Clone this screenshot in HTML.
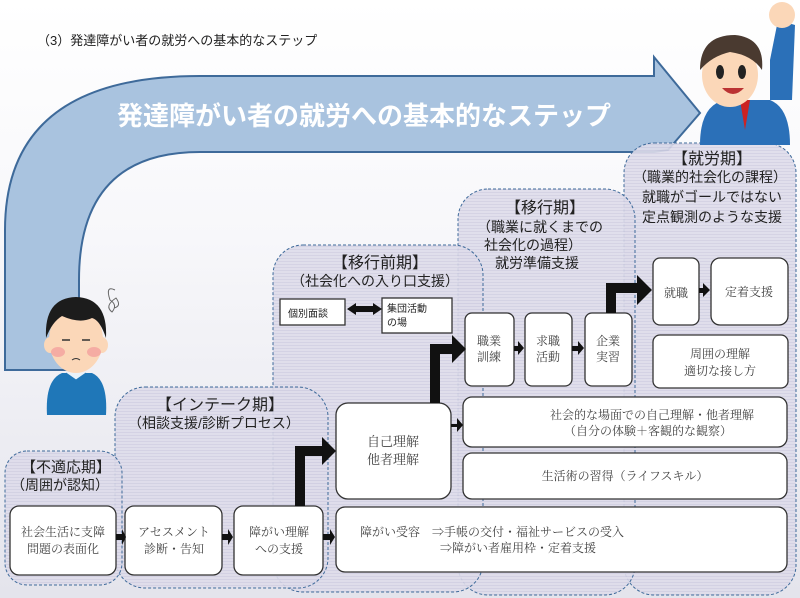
<!DOCTYPE html>
<html><head><meta charset="utf-8"><style>
html,body{margin:0;padding:0;width:800px;height:598px;overflow:hidden;background:#fff}
svg{display:block}
.g{font-family:"Liberation Sans","Noto Sans CJK JP",sans-serif}
.m{font-family:"Liberation Serif","Noto Serif CJK SC","IPAGothic",serif;fill:#444}
</style></head><body>
<svg width="800" height="598" viewBox="0 0 800 598" xmlns="http://www.w3.org/2000/svg">
<defs>
<linearGradient id="bg" x1="0" y1="0" x2="0" y2="1">
<stop offset="0" stop-color="#ffffff"/><stop offset="0.4" stop-color="#f7f7fa"/><stop offset="1" stop-color="#e4e4ec"/>
</linearGradient>
<pattern id="st" width="4" height="3" patternUnits="userSpaceOnUse">
<rect width="4" height="3" fill="#dedcea"/><rect width="4" height="1" fill="#d1cfe2"/>
</pattern>
</defs>
<rect width="800" height="598" fill="url(#bg)"/>
<text x="37" y="45" class="g" font-size="13" fill="#222">（3）発達障がい者の就労への基本的なステップ</text>

<path d="M5 370 L5 230 Q5 76 200 76 L654 76 L654 57 L700 113 L668 150 L654 152 L200 152 Q79 152 79 280 L79 370 Z" fill="#a9c3df" stroke="#3e6a9a" stroke-width="2"/>
<text x="364" y="125" class="g" font-size="26" font-weight="bold" fill="#fff" text-anchor="middle">発達障がい者の就労への基本的なステップ</text>

<g stroke="#3e6a9a" stroke-width="1" stroke-dasharray="3,2" fill="url(#st)" fill-opacity="0.9">
<rect x="624" y="143" width="172" height="452" rx="30"/>
<rect x="458" y="189" width="177" height="406" rx="30"/>
<rect x="273" y="245" width="210" height="347" rx="30"/>
<rect x="115" y="387" width="213" height="201" rx="30"/>
<rect x="5" y="451" width="117" height="134" rx="22"/>
</g>

<g class="g" fill="#222" text-anchor="middle">
<text x="66" y="472" font-size="15">【不適応期】</text>
<text x="60" y="490" font-size="14">（周囲が認知）</text>
<text x="220" y="410" font-size="16">【インテーク期】</text>
<text x="214" y="428" font-size="14">（相談支援/診断プロセス）</text>
<text x="380" y="268" font-size="16">【移行前期】</text>
<text x="375" y="286" font-size="14">（社会化への入り口支援）</text>
<text x="545" y="213" font-size="16">【移行期】</text>
<text x="540" y="232" font-size="14">（職業に就くまでの</text>
<text x="533" y="250" font-size="14">社会化の過程）</text>
<text x="537" y="268" font-size="14">就労準備支援</text>
<text x="712" y="164" font-size="16">【就労期】</text>
<text x="710" y="182" font-size="14">（職業的社会化の課程）</text>
<text x="712" y="202" font-size="14">就職がゴールではない</text>
<text x="712" y="222" font-size="14">定点観測のような支援</text>
</g>

<g fill="#fff" stroke="#333" stroke-width="1.3">
<rect x="10" y="506" width="106" height="69" rx="9"/>
<rect x="125" y="506" width="97" height="69" rx="9"/>
<rect x="234" y="506" width="89" height="69" rx="9"/>
<rect x="336" y="507" width="451" height="65" rx="9"/>
<rect x="336" y="403" width="115" height="96" rx="12"/>
<rect x="463" y="397" width="324" height="50" rx="9"/>
<rect x="463" y="453" width="324" height="46" rx="9"/>
<rect x="465" y="313" width="49" height="73" rx="7"/>
<rect x="525" y="313" width="47" height="73" rx="7"/>
<rect x="585" y="313" width="47" height="73" rx="7"/>
<rect x="653" y="258" width="46" height="67" rx="7"/>
<rect x="711" y="258" width="77" height="67" rx="9"/>
<rect x="653" y="335" width="135" height="53" rx="7"/>
<rect x="280" y="299" width="65" height="26" rx="0"/>
<rect x="382" y="298" width="70" height="35" rx="0"/>
</g>

<g fill="#111">
<path d="M116 534 h6 v-5 l4 8 l-4 8 v-5 h-6z"/>
<path d="M222 534 h6 v-5 l5 8 l-5 8 v-5 h-6z"/>
<path d="M323 534 h7 v-5 l5 8 l-5 8 v-5 h-7z"/>
<path d="M451 424 h6 v-6 l6 7 l-6 7 v-5 h-6z"/>
<path d="M514 346 h4 v-5 l6 7 l-6 7 v-4 h-4z"/>
<path d="M572 346 h6 v-5 l6 7 l-6 7 v-4 h-6z"/>
<path d="M699 288 h4 v-5 l7 7 l-7 7 v-4 h-4z"/>
<path d="M347 309 l9 -6 v3 h17 v-3 l9 6 l-9 6 v-3 h-17 v3z"/>
<path d="M295 506 V446 H322 V437 L336 451 L322 465 V456 H305 V506 Z"/>
<path d="M430 403 V344 H452 V335 L466 349 L452 363 V354 H440 V403 Z"/>
<path d="M606 313 V283 H637 V275 L652 290 L637 305 V293 H616 V313 Z"/>
</g>

<g class="m" text-anchor="middle" font-size="12">
<text x="63" y="536">社会生活に支障</text>
<text x="63" y="553">問題の表面化</text>
<text x="174" y="536">アセスメント</text>
<text x="174" y="553">診断・告知</text>
<text x="279" y="536">障がい理解</text>
<text x="279" y="553">への支援</text>
<text x="393" y="446" font-size="13">自己理解</text>
<text x="393" y="464" font-size="13">他者理解</text>
<text x="652" y="419">社会的な場面での自己理解・他者理解</text>
<text x="648" y="435">（自分の体験＋客観的な観察）</text>
<text x="625" y="480">生活術の習得（ライフスキル）</text>
<text x="489" y="345">職業</text>
<text x="489" y="361">訓練</text>
<text x="548" y="345">求職</text>
<text x="548" y="361">活動</text>
<text x="608" y="345">企業</text>
<text x="608" y="361">実習</text>
<text x="676" y="297">就職</text>
<text x="749" y="296">定着支援</text>
<text x="720" y="358">周囲の理解</text>
<text x="720" y="375">適切な接し方</text>
</g>
<g class="m" font-size="12">
<text x="360" y="536">障がい受容　⇒手帳の交付・福祉サービスの受入</text>
<text x="440" y="552">⇒障がい者雇用枠・定着支援</text>
</g>
<g class="g" font-size="10" fill="#222">
<text x="288" y="317">個別面談</text>
<text x="387" y="312">集団活動</text>
<text x="387" y="326">の場</text>
</g>

<g>
<path d="M47 415 Q45 380 62 373 L92 373 Q108 380 106 415 Z" fill="#1f77b8"/>
<path d="M66 373 L76 380 L86 373" fill="#e8f2fa" stroke="#1f77b8"/>
<ellipse cx="76" cy="340" rx="27" ry="33" fill="#fbd7b8"/>
<ellipse cx="50" cy="345" rx="6" ry="8" fill="#fbd7b8"/>
<ellipse cx="102" cy="345" rx="6" ry="8" fill="#fbd7b8"/>
<path d="M46 338 Q44 298 76 297 Q108 298 106 338 Q100 320 92 318 Q80 324 62 316 Q52 322 46 338Z" fill="#1c1c1c"/>
<ellipse cx="58" cy="352" rx="7" ry="5" fill="#f29a9a" opacity="0.7"/>
<ellipse cx="94" cy="352" rx="7" ry="5" fill="#f29a9a" opacity="0.7"/>
<path d="M62 340 h8 M82 340 h8" stroke="#333" stroke-width="1.5"/>
<path d="M72 360 q4 -3 8 0" stroke="#333" fill="none"/>
<path d="M115 290 q-10 -5 -5 10 q8 5 2 12 q-8 -6 4 -14 q6 8 -2 10" stroke="#666" fill="none"/>
</g>
<g>
<path d="M700 145 Q700 105 725 100 L770 100 Q790 108 790 145 Z" fill="#2b70b8"/>
<path d="M770 60 L778 20 L795 25 L792 100 L770 100 Z" fill="#2b70b8"/>
<circle cx="782" cy="15" r="13" fill="#fbd7b8"/>
<path d="M740 100 l5 30 l5 -30z" fill="#c22"/>
<ellipse cx="730" cy="75" rx="28" ry="32" fill="#fbd7b8"/>
<path d="M700 70 Q700 35 735 35 Q765 38 762 70 Q752 55 730 52 Q712 56 700 70Z" fill="#4a3a30"/>
<ellipse cx="720" cy="72" rx="4" ry="7" fill="#222"/>
<ellipse cx="742" cy="72" rx="4" ry="7" fill="#222"/>
<path d="M722 88 Q733 100 744 88 Z" fill="#b33"/>
</g>
</svg>
</body></html>
